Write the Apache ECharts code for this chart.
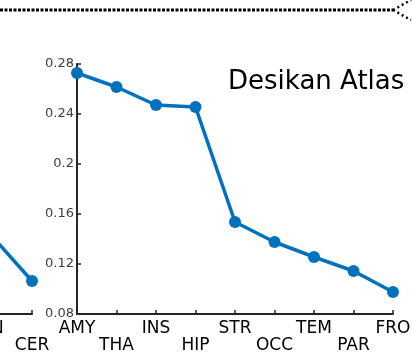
<!DOCTYPE html>
<html>
<head>
<meta charset="utf-8">
<script src="https://cdn.jsdelivr.net/npm/echarts@6/dist/echarts.min.js"></script>
<style>html,body{margin:0;padding:0;background:#fff}#c{width:412px;height:361px}</style>
</head>
<body>
<div id="c"></div>
<script>
const categories = ["AMY","THA","INS","HIP","STR","OCC","TEM","PAR","FRO"];
const values = [0.2728, 0.2616, 0.2472, 0.2456, 0.1536, 0.1376, 0.1256, 0.1144, 0.0976];
const leftCategories = ["BRN","CER"];
const leftValues = [0.148, 0.1064];
const yTicks = [0.08, 0.12, 0.16, 0.2, 0.24, 0.28];
const titleText = "Desikan Atlas";

const FONT = "DejaVu Sans";
const AXC = "#262626";
const BLUE = "#0072BD";

const xLabel = {
  fontFamily: FONT, fontSize: 17, color: "#000", lineHeight: 17, margin: 6,
  interval: 0,
  formatter: (v, i) => (i % 2 ? "\n" + v : v)
};

const chart = echarts.init(document.getElementById("c"), null, {renderer: "canvas"});
chart.setOption({
  animation: false,
  backgroundColor: "#fff",
  title: {
    text: titleText, left: 223, top: 64,
    textStyle: {fontFamily: FONT, fontSize: 26, fontWeight: "normal", color: "#000"}
  },
  grid: [
    {left: 77, top: 64, width: 316, height: 250, containLabel: false, outerBoundsMode: "none"},
    {left: -14.5, top: 64, width: 46.5, height: 250, containLabel: false, outerBoundsMode: "none"}
  ],
  xAxis: [
    {
      type: "category", gridIndex: 0, data: categories, boundaryGap: false,
      axisLine: {lineStyle: {color: AXC, width: 2}},
      axisTick: {inside: true, length: 4, lineStyle: {color: AXC, width: 1.5}, interval: 0},
      axisLabel: xLabel, splitLine: {show: false}
    },
    {
      type: "category", gridIndex: 1, data: leftCategories, boundaryGap: false,
      axisLine: {lineStyle: {color: AXC, width: 2}},
      axisTick: {inside: true, length: 4, lineStyle: {color: AXC, width: 1.5}, interval: 0},
      axisLabel: xLabel, splitLine: {show: false}
    }
  ],
  yAxis: [
    {
      type: "value", gridIndex: 0, min: yTicks[0], max: yTicks[yTicks.length - 1], interval: 0.04,
      axisLine: {show: true, lineStyle: {color: AXC, width: 2}},
      axisTick: {show: true, inside: true, length: 4, lineStyle: {color: AXC, width: 1.5}},
      axisLabel: {fontFamily: FONT, fontSize: 13, color: "#404040", margin: 3,
        formatter: v => String(parseFloat(v.toFixed(2)))},
      splitLine: {show: false}
    },
    {
      type: "value", gridIndex: 1, min: yTicks[0], max: yTicks[yTicks.length - 1], interval: 0.04,
      axisLine: {show: false}, axisTick: {show: false}, axisLabel: {show: false},
      splitLine: {show: false}
    }
  ],
  series: [
    {
      type: "line", xAxisIndex: 0, yAxisIndex: 0, data: values,
      symbol: "circle", symbolSize: 12,
      lineStyle: {color: BLUE, width: 3.5}, itemStyle: {color: BLUE},
      clip: false
    },
    {
      type: "line", xAxisIndex: 1, yAxisIndex: 1, data: leftValues,
      symbol: "circle", symbolSize: 12,
      lineStyle: {color: BLUE, width: 3.5}, itemStyle: {color: BLUE},
      clip: false
    }
  ],
  graphic: [
    {type: "polyline", shape: {points: [[0, 10], [393, 10]]},
     style: {stroke: "#000", lineWidth: 3, lineDash: [3, 1.5], fill: null}},
    {type: "polyline", shape: {points: [[393, 10], [411, 0]]},
     style: {stroke: "#000", lineWidth: 2.5, lineDash: [2, 3], fill: null}},
    {type: "polyline", shape: {points: [[393, 10], [411, 20]]},
     style: {stroke: "#000", lineWidth: 2.5, lineDash: [2, 3], fill: null}}
  ]
});
</script>
</body>
</html>
